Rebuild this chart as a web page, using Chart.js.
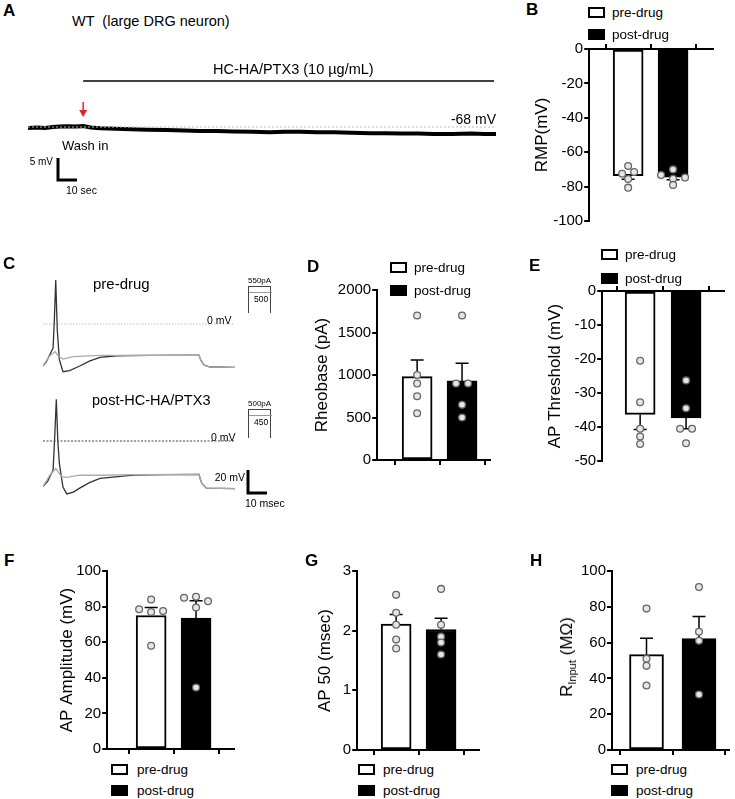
<!DOCTYPE html>
<html>
<head>
<meta charset="utf-8">
<script src="https://cdn.jsdelivr.net/npm/chart.js@4.4.0/dist/chart.umd.min.js"></script>
<style>
body{margin:0;background:#fff;width:735px;height:799px;position:relative;overflow:hidden;font-family:'Liberation Sans',Arial,sans-serif;color:#000}
canvas{position:absolute}
.t{position:absolute;white-space:pre;line-height:1;transform:translateY(-50%)}
.t.r{transform:translate(-100%,-50%)}
.lbox{position:absolute;width:13px;height:7px;border:2px solid #000}
.stim{position:absolute;border:1.5px solid #444;border-bottom:none;width:21px}
.stim2{position:absolute;border-top:1px solid #999;width:23px;height:0}
</style>
</head>
<body>
<script>
// groups
var groups = ["pre-drug", "post-drug"];

// B: resting membrane potential (mV)
var rmpPre = [-68, -72.5, -71.5, -75.6, -80.6];
var rmpPost = [-73.3, -70, -75.5, -74.7, -79];
var rmpTicks = [-100, -80, -60, -40, -20, 0];

// D: rheobase (pA)
var rheoPre = [1700, 1000, 900, 750, 550];
var rheoPost = [1700, 900, 900, 650, 500];
var rheoTicks = [0, 500, 1000, 1500, 2000];

// E: AP threshold (mV)
var thrPre = [-20.5, -32.7, -40.5, -42.8, -45];
var thrPost = [-26.3, -34.5, -40.5, -40.5, -44.8];
var thrTicks = [-50, -40, -30, -20, -10, 0];

// F: AP amplitude (mV)
var ampPre = [78.5, 84, 77, 77.5, 58];
var ampPost = [85, 85.5, 83, 79.5, 34.5];
var ampTicks = [0, 20, 40, 60, 80, 100];

// G: AP 50 (msec)
var ap50Pre = [2.6, 2.3, 2.1, 1.85, 1.7];
var ap50Post = [2.7, 2.1, 1.9, 1.8, 1.6];
var ap50Ticks = [0, 1, 2, 3];

// H: input resistance (MOhm)
var rinPre = [79, 51, 47, 36];
var rinPost = [91, 66, 61, 31];
var rinTicks = [0, 20, 40, 60, 80, 100];

// A: membrane potential trace (sec, mV)
var traceSec = [0, 5, 9, 13, 17, 21, 25, 29, 33, 38, 46, 54, 63, 73, 82, 90, 99, 108, 118, 127, 135, 143, 152, 161, 170, 180, 188, 196, 205, 213, 223, 233, 240, 246];
var traceMv = [-68.2, -68.1, -68.2, -68.0, -67.9, -67.8, -67.9, -67.8, -68.1, -68.3, -68.4, -68.5, -68.6, -68.7, -68.8, -68.9, -68.9, -69.0, -69.1, -69.2, -69.1, -69.1, -69.2, -69.2, -69.3, -69.4, -69.4, -69.5, -69.5, -69.6, -69.6, -69.5, -69.6, -69.6];
var restMv = -68;
var washIn = 29, drugEnd = 245;

// C: action potential traces (msec, mV)
var apPreT = [0, 1.8, 3.5, 5.3, 6.0, 6.7, 7.5, 8.6, 10.5, 14, 19.3, 24.7, 30, 38.8, 56.5, 82, 83, 84.7, 87.9, 101];
var apPreV = [-36.5, -32.8, -27, -21, 5, 38.3, -5, -31, -41.5, -40.6, -36.5, -32, -29, -27.6, -27.3, -27, -31.3, -35.7, -37.4, -37.7];
var subPreT = [0, 3.5, 6.3, 8, 10.5, 15.8, 30, 56.5, 82, 83, 84.7, 87.9, 101];
var subPreV = [-36.5, -27.8, -24, -27.8, -30.5, -28.4, -27.3, -27.3, -27, -31.3, -35.7, -37.4, -37.7];
var apPostT = [0, 2.5, 5.3, 6.2, 7, 7.8, 8.6, 10.5, 12.5, 16, 19.3, 24.7, 30, 47.5, 65, 82, 83.5, 86, 101];
var apPostV = [-39.6, -35, -25.2, 5, 36.3, 0, -19.4, -40, -46, -44.5, -41, -36, -32.5, -29.6, -29.2, -29, -36.8, -41, -41.5];
var subPostT = [0, 3.5, 6.7, 9.8, 12.5, 19.3, 30, 47.5, 82, 83.5, 86, 101];
var subPostV = [-39.6, -30, -24, -31, -31.6, -29.6, -29.8, -29.3, -29, -36.8, -41, -41.5];
var zeroT = [0, 101];
var zeroV = [0, 0];

Chart.defaults.font.family = "'Liberation Sans', Arial, sans-serif";
Chart.defaults.color = '#000';

function mean(a){ var s = 0; a.forEach(function(v){ s += v; }); return s / a.length; }
function sem(a){
	var m = mean(a), s = 0;
	a.forEach(function(v){ s += (v - m) * (v - m); });
	return Math.sqrt(s / (a.length - 1)) / Math.sqrt(a.length);
}
function zip(xs, ys){ return xs.map(function(x, i){ return {x: x, y: ys[i]}; }); }

// side by side offsets (px) for points that would overlap
function spread(vals, range){
	var off = vals.map(function(){ return 0; });
	var idx = vals.map(function(v, i){ return i; }).sort(function(a, b){ return vals[a] - vals[b]; });
	var grp = [], cur = [idx[0]];
	for (var k = 1; k < idx.length; k++) {
		if (Math.abs(vals[idx[k]] - vals[idx[k - 1]]) <= range * 0.03) cur.push(idx[k]);
		else { grp.push(cur); cur = [idx[k]]; }
	}
	grp.push(cur);
	grp.forEach(function(g){
		g.sort(function(a, b){ return a - b; });
		g.forEach(function(i, j){ off[i] = (j - (g.length - 1) / 2) * 12; });
	});
	return off;
}

function addText(str, x, y, size, right, extra){
	var d = document.createElement('div');
	d.className = 't' + (right ? ' r' : '');
	d.style.left = x + 'px';
	d.style.top = y + 'px';
	d.style.fontSize = size + 'px';
	if (extra) d.style.cssText += extra;
	d.textContent = str;
	document.body.appendChild(d);
	return d;
}

function addLegend(bx, y, gap, tx){
	groups.forEach(function(g, i){
		var b = document.createElement('div');
		b.className = 'lbox';
		b.style.left = bx + 'px';
		b.style.top = (y + i * gap - 5.5) + 'px';
		b.style.background = i == 0 ? '#fff' : '#000';
		document.body.appendChild(b);
		addText(g, tx, y + i * gap + 0.5, 13.5);
	});
}

function makeCanvas(l, t, w, h){
	var cv = document.createElement('canvas');
	cv.width = w; cv.height = h;
	cv.style.left = l + 'px'; cv.style.top = t + 'px';
	document.body.appendChild(cv);
	return cv;
}

function semPlugin(pre, post){
	return {
		id: 'sem',
		afterDatasetDraw: function(chart, args){
			if (args.index !== 0) return;
			var ctx = chart.ctx, ys = chart.scales.y;
			[pre, post].forEach(function(v, i){
				var bar = args.meta.data[i];
				var m = mean(v), s = sem(v);
				var tip = ys.getPixelForValue(m < 0 ? m - s : m + s);
				ctx.save();
				ctx.strokeStyle = '#000';
				ctx.lineWidth = 1.5;
				ctx.beginPath();
				ctx.moveTo(bar.x, bar.y);
				ctx.lineTo(bar.x, tip);
				ctx.moveTo(bar.x - 6.5, tip);
				ctx.lineTo(bar.x + 6.5, tip);
				ctx.stroke();
				ctx.restore();
			});
		}
	};
}

function barPanel(p){
	var unit = p.c2 - p.c1;
	var xmin = 1 - (p.c1 - p.left) / unit;
	var xmax = 2 + (p.right - p.c2) / unit;
	var cl = p.canvasLeft != null ? p.canvasLeft : p.titleX - 10.2;
	var yW = p.left - cl, xH = 8;
	var padT, padB, ct, ch;
	if (p.axisTop) { padT = 4; padB = 12; ct = p.yTop - padT - xH; }
	else { padT = 12; padB = 4; ct = p.yTop - padT; }
	ch = padT + padB + xH + (p.yBot - p.yTop);
	var cw = p.right - cl + 6;
	var cv = makeCanvas(cl, ct, cw, ch);
	var range = p.ticks[p.ticks.length - 1] - p.ticks[0];
	var jp = spread(p.pre, range), jq = spread(p.post, range);
	var pt = {pointRadius: 3.4, pointBackgroundColor: '#e6e6e6', pointBorderColor: '#666', pointBorderWidth: 1.3, order: 1, clip: false};
	new Chart(cv, {
		type: 'bar',
		data: {
			datasets: [
				{type: 'bar', label: groups.join(' / '), data: [{x: 1, y: mean(p.pre)}, {x: 2, y: mean(p.post)}],
					backgroundColor: ['#fff', '#000'], borderColor: '#000', borderWidth: 2, borderSkipped: false,
					barThickness: p.bw, order: 2},
				Object.assign({type: 'scatter', label: groups[0], data: p.pre.map(function(v, i){ return {x: 1 + jp[i] / unit, y: v}; })}, pt),
				Object.assign({type: 'scatter', label: groups[1], data: p.post.map(function(v, i){ return {x: 2 + jq[i] / unit, y: v}; })}, pt)
			]
		},
		options: {
			responsive: false, animation: false, events: [],
			layout: {padding: {left: 0, right: 6, top: padT, bottom: padB}},
			plugins: {legend: {display: false}, tooltip: {enabled: false}},
			scales: {
				x: {type: 'linear', position: p.axisTop ? 'top' : 'bottom', min: xmin, max: xmax, offset: false,
					afterFit: function(s){ s.height = xH; },
					afterBuildTicks: function(s){ s.ticks = [{value: 1}, {value: 2}]; },
					ticks: {display: false},
					grid: {drawOnChartArea: false, drawTicks: true, tickLength: 5, tickWidth: 2, tickColor: '#000', color: '#000', lineWidth: 2},
					border: {display: true, color: '#000', width: 2}},
				y: {type: 'linear', min: p.ticks[0], max: p.ticks[p.ticks.length - 1],
					afterFit: function(s){ s.width = yW; },
					afterBuildTicks: function(s){ s.ticks = p.ticks.map(function(v){ return {value: v}; }); },
					ticks: {color: '#000', font: {size: 15}, padding: 1, autoSkip: false, callback: function(v){ return String(v); }},
					grid: {drawOnChartArea: false, drawTicks: true, tickLength: 5, tickWidth: 2, tickColor: '#000', color: '#000', lineWidth: 2},
					border: {display: true, color: '#000', width: 2},
					title: {display: !!p.title, text: p.title || '', color: '#000', font: {size: 17}, padding: 0}}
			}
		},
		plugins: [semPlugin(p.pre, p.post)]
	});
}

function traceChart(l, t, w, h, pad, xr, yr, datasets, draw){
	var cv = makeCanvas(l, t, w, h);
	new Chart(cv, {
		type: 'line',
		data: {datasets: datasets},
		options: {
			responsive: false, animation: false, events: [],
			layout: {padding: pad},
			plugins: {legend: {display: false}, tooltip: {enabled: false}},
			elements: {point: {radius: 0}, line: {tension: 0}},
			scales: {
				x: {type: 'linear', display: false, min: xr[0], max: xr[1]},
				y: {type: 'linear', display: false, min: yr[0], max: yr[1]}
			}
		},
		plugins: draw ? [{id: 'ann', afterDraw: draw}] : []
	});
}

function scaleBar(chart, x0, yb, dx, dy){
	var xs = chart.scales.x, ys = chart.scales.y, ctx = chart.ctx;
	var w = xs.getPixelForValue(dx) - xs.getPixelForValue(0);
	var h = ys.getPixelForValue(0) - ys.getPixelForValue(dy);
	ctx.save();
	ctx.strokeStyle = '#000';
	ctx.lineWidth = 3;
	ctx.lineCap = 'butt';
	ctx.lineJoin = 'miter';
	ctx.beginPath();
	ctx.moveTo(x0, yb - h);
	ctx.lineTo(x0, yb);
	ctx.lineTo(x0 + w, yb);
	ctx.stroke();
	ctx.restore();
}

// ---- panel A ----
traceChart(0, 60, 520, 140, {left: 28, right: 24, top: 40, bottom: 10}, [0, 246], [-82.32, -61.86], [
	{data: zip([0, 246], [restMv, restMv]), borderColor: '#bdbdbd', borderWidth: 1, borderDash: [2, 2]},
	{data: zip(traceSec, traceMv), borderColor: '#000', borderWidth: 4}
], function(chart){
	var ctx = chart.ctx, xs = chart.scales.x;
	var xa = xs.getPixelForValue(washIn);
	ctx.save();
	ctx.strokeStyle = '#000';
	ctx.lineWidth = 1.5;
	ctx.beginPath();
	ctx.moveTo(xa, 21);
	ctx.lineTo(xs.getPixelForValue(drugEnd), 21);
	ctx.stroke();
	ctx.strokeStyle = '#e3262b';
	ctx.fillStyle = '#e3262b';
	ctx.beginPath();
	ctx.moveTo(xa, 42);
	ctx.lineTo(xa, 52);
	ctx.stroke();
	ctx.beginPath();
	ctx.moveTo(xa - 4, 50);
	ctx.lineTo(xa + 4, 50);
	ctx.lineTo(xa, 57);
	ctx.closePath();
	ctx.fill();
	ctx.restore();
	scaleBar(chart, 58, 120, 10, 5);
});

addText('A', 3, 10, 17, false, 'font-weight:bold');
addText('WT  (large DRG neuron)', 72, 21, 14.5);
addText('HC-HA/PTX3 (10 \u00b5g/mL)', 213, 69, 14.5);
addText('-68 mV', 496, 119, 14, true);
addText('Wash in', 62, 145, 13);
addText('5 mV', 53, 162, 10, true);
addText('10 sec', 66, 190, 10.5);

// ---- panel C ----
traceChart(0, 270, 300, 110, {left: 43, right: 65, top: 5, bottom: 5}, [0, 101], [-44.35, 42.6], [
	{data: zip(zeroT, zeroV), borderColor: '#bdbdbd', borderWidth: 1, borderDash: [1.5, 1.5]},
	{data: zip(subPreT, subPreV), borderColor: '#ababab', borderWidth: 1.3},
	{data: zip(apPreT, apPreV), borderColor: '#333', borderWidth: 1.3}
]);
traceChart(0, 390, 300, 120, {left: 43, right: 65, top: 5, bottom: 15}, [0, 101], [-46.96, 40.0], [
	{data: zip(zeroT, zeroV), borderColor: '#444', borderWidth: 1, borderDash: [2, 1.5]},
	{data: zip(subPostT, subPostV), borderColor: '#ababab', borderWidth: 1.3},
	{data: zip(apPostT, apPostV), borderColor: '#333', borderWidth: 1.3}
], function(chart){ scaleBar(chart, 248, 103, 10, 20); });

addText('C', 3, 263, 17, false, 'font-weight:bold');
addText('pre-drug', 93, 283, 15);
addText('post-HC-HA/PTX3', 92, 400, 14.5);
addText('0 mV', 207, 320, 10.5);
addText('0 mV', 211, 437, 10.5);
addText('20 mV', 245, 477, 10.5, true);
addText('10 msec', 245, 503, 10.5);

function stimBox(top, inner, bottom, lab1, lab2){
	var s = document.createElement('div');
	s.className = 'stim';
	s.style.left = '248px'; s.style.top = top + 'px'; s.style.height = (bottom - top) + 'px';
	document.body.appendChild(s);
	var s2 = document.createElement('div');
	s2.className = 'stim2';
	s2.style.left = '249px'; s2.style.top = inner + 'px';
	document.body.appendChild(s2);
	addText(lab1, 248, top - 5, 8);
	addText(lab2, 254, inner + 7, 8.5);
}
stimBox(286, 292, 312, '550pA', '500');
stimBox(409, 415, 437, '500pA', '450');

// ---- bar panels ----
barPanel({pre: rmpPre, post: rmpPost, ticks: rmpTicks, title: 'RMP(mV)', titleX: 542,
	left: 589, right: 713, yTop: 49, yBot: 221, c1: 628, c2: 673, bw: 30, axisTop: true});
addText('B', 526, 9, 17, false, 'font-weight:bold');
addLegend(588, 12.5, 21.5, 612);

barPanel({pre: rheoPre, post: rheoPost, ticks: rheoTicks, title: 'Rheobase (pA)', titleX: 322,
	left: 377, right: 490, yTop: 290, yBot: 460, c1: 417, c2: 462, bw: 30});
addText('D', 307, 266, 17, false, 'font-weight:bold');
addLegend(390, 267, 23.5, 414);

barPanel({pre: thrPre, post: thrPost, ticks: thrTicks, title: 'AP Threshold (mV)', titleX: 555,
	left: 602, right: 724, yTop: 291, yBot: 461, c1: 640, c2: 686, bw: 30, axisTop: true});
addText('E', 529, 265, 17, false, 'font-weight:bold');
addLegend(601, 254.5, 23.5, 625);

barPanel({pre: ampPre, post: ampPost, ticks: ampTicks, title: 'AP Amplitude (mV)', titleX: 67,
	left: 107, right: 234, yTop: 571, yBot: 749, c1: 151, c2: 196, bw: 30});
addText('F', 4, 560, 17, false, 'font-weight:bold');
addLegend(111, 769, 21, 137);

barPanel({pre: ap50Pre, post: ap50Post, ticks: ap50Ticks, title: 'AP 50 (msec)', titleX: 325,
	left: 357, right: 479, yTop: 571, yBot: 750, c1: 396, c2: 441, bw: 30});
addText('G', 305, 560, 17, false, 'font-weight:bold');
addLegend(358, 769, 21, 383);

barPanel({pre: rinPre, post: rinPost, ticks: rinTicks, title: null, canvasLeft: 572,
	left: 612, right: 729, yTop: 571, yBot: 750, c1: 646.5, c2: 699, bw: 34});
addText('H', 530, 560, 17, false, 'font-weight:bold');
addLegend(611, 769, 21, 636);
var ht = document.createElement('div');
ht.style.cssText = 'position:absolute;left:568px;top:657px;transform:translate(-50%,-50%) rotate(-90deg);font-size:17px;white-space:nowrap;line-height:1';
ht.innerHTML = 'R<sub style="font-size:11px;vertical-align:-4px">Input</sub> (M\u03a9)';
document.body.appendChild(ht);
</script>
</body>
</html>
